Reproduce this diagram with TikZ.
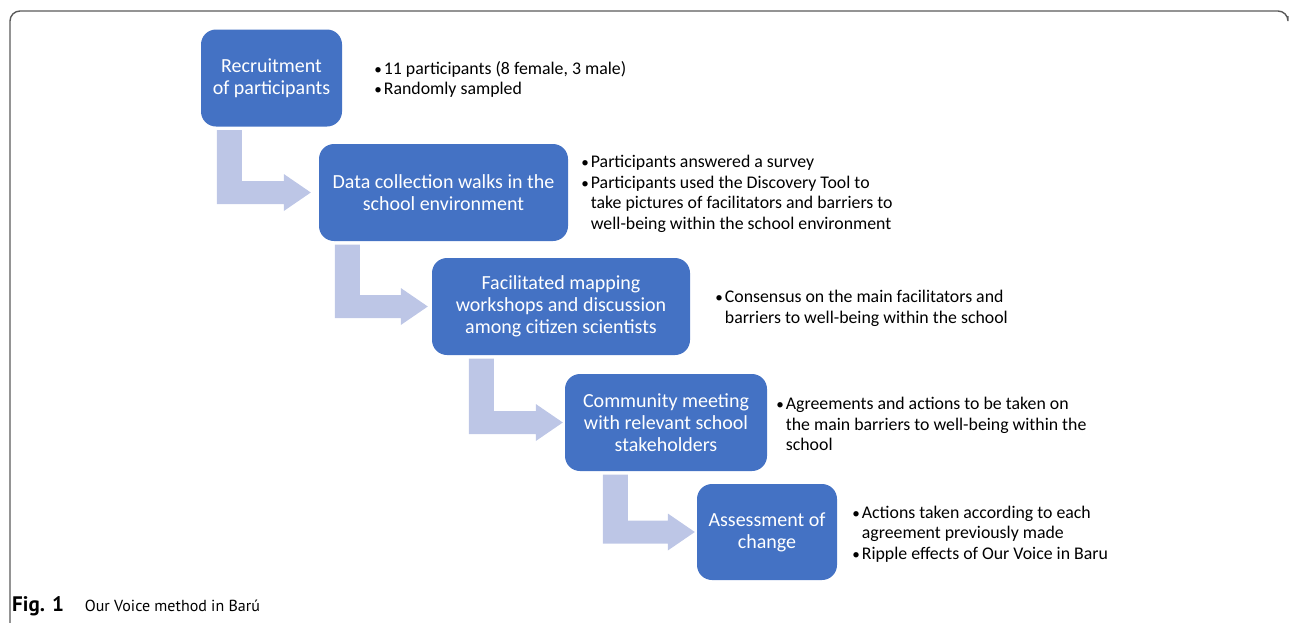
\documentclass[tikz,border=0pt]{standalone}
\usepackage{fontspec}
\setmainfont{Carlito}
\newfontfamily\capfont{PT Sans}
\usepackage{tikz}
\usetikzlibrary{positioning,calc}

\definecolor{stageblue}{RGB}{68,114,196}
\definecolor{arrowblue}{RGB}{189,198,230}
\definecolor{framegray}{RGB}{90,90,90}

\tikzset{
  stage/.style={rectangle,rounded corners=15pt,fill=stageblue,text=white,
    align=center,inner sep=0pt,
    font=\fontsize{20}{22}\selectfont},
  note/.style={anchor=west,align=left,inner sep=0pt,
    font=\fontsize{17.8}{20.5}\selectfont},
  stagearrow/.style={fill=arrowblue}
}

% bullet with a fixed width, and the indent of a wrapped line
\newcommand{\itm}{\makebox[9.5pt][l]{\scalebox{0.85}{\textbullet}}}
\newcommand{\cont}{\hspace*{9.5pt}}

% bent block arrow: from, to, offset of the bar, gap before the tip
\newcommand{\flowarrow}[4]{%
  \coordinate (bar) at ($(#1.south west)+(#3,3.5)$);
  \fill[stagearrow] (bar) -- ++(25,0)
    -- ($(bar |- #2.west)+(25,-11.5)$)
    -- ($(#2.west)+(-#4-27,-11.5)$)
    -- ($(#2.west)+(-#4-27,-18.5)$)
    -- ($(#2.west)+(-#4,0)$)
    -- ($(#2.west)+(-#4-27,18.5)$)
    -- ($(#2.west)+(-#4-27,11.5)$)
    -- ($(bar |- #2.west)+(0,11.5)$)
    -- cycle;}

\begin{document}
\begin{tikzpicture}[x=1pt,y=-1pt]
  \useasboundingbox (0,0) rectangle (1290,622);
  % frame round the figure
  \draw[framegray,line width=1.4pt,rounded corners=10pt]
    (10,625) -- (10,11) -- (1288,11) -- (1288,16);

  % the five stages
  \node[stage,minimum width=141,minimum height=97] (recruit) at (271.5,78)
    {Recruitment\\of participants};
  \node[stage,minimum width=249,minimum height=97] (walks) at (443.5,192.5)
    {Data collection walks in the\\school environment};
  \node[stage,minimum width=258,minimum height=97] (mapping) at (561,306.5)
    {Facilitated mapping\\workshops and discussion\\among citizen scientists};
  \node[stage,minimum width=202,minimum height=97] (meeting) at (666,422.5)
    {Community meeting\\with relevant school\\stakeholders};
  \node[stage,minimum width=140,minimum height=96] (change) at (767,532)
    {Assessment of\\change};

  % arrows between the stages
  \flowarrow{recruit}{walks}{16}{8}
  \flowarrow{walks}{mapping}{16}{4}
  \flowarrow{mapping}{meeting}{37}{2}
  \flowarrow{meeting}{change}{38}{2}

  % notes beside each stage
  \node[note,right=32pt of recruit,yshift=-1.5] (n1)
    {\itm 11 participants (8 female, 3 male)\\
     \itm Randomly sampled};
  \node[note,right=13pt of walks,yshift=-1.5] (n2)
    {\itm Participants answered a survey\\
     \itm Participants used the Discovery Tool to\\
     \cont take pictures of facilitators and barriers to\\
     \cont well-being within the school environment};
  \node[note,right=25pt of mapping,yshift=-2] (n3)
    {\itm Consensus on the main facilitators and\\
     \cont barriers to well-being within the school};
  \node[note,right=9pt of meeting,yshift=-1.5] (n4)
    {\itm Agreements and actions to be taken on\\
     \cont the main barriers to well-being within the\\
     \cont school};
  \node[note,right=15pt of change,yshift=-2] (n5)
    {\itm Actions taken according to each\\
     \cont agreement previously made\\
     \itm Ripple effects of Our Voice in Baru};

  % caption
  \node[anchor=base west,inner sep=0pt,font=\capfont\fontsize{16}{20}\selectfont]
    (cap) at (12,611)
    {{\fontsize{21}{22}\selectfont\textbf{Fig. 1}}\hspace{21pt}Our Voice method in Barú};
\end{tikzpicture}
\end{document}
